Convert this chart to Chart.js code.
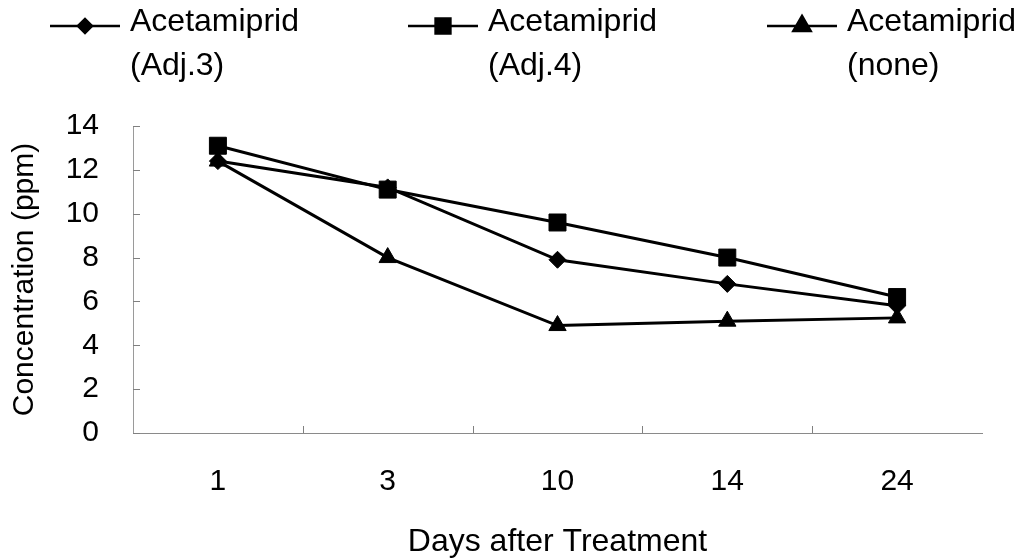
<!DOCTYPE html>
<html>
<head>
<meta charset="utf-8">
<script src="https://cdn.jsdelivr.net/npm/chart.js@4"></script>
<style>
  html, body { margin: 0; padding: 0; background: #fff; }
  #wrap { width: 1023px; height: 560px; }
</style>
</head>
<body>
<div id="wrap"><canvas id="lineChart" width="1023" height="560"></canvas></div>
<script>
var days = ['1', '3', '10', '14', '24'];
var adj3 = [12.4, 11.2, 7.9, 6.8, 5.8];
var adj4 = [13.1, 11.1, 9.6, 8.0, 6.2];
var none = [12.4, 8.0, 4.9, 5.1, 5.25];
var seriesNames = [['Acetamiprid', '(Adj.3)'], ['Acetamiprid', '(Adj.4)'], ['Acetamiprid', '(none)']];
var yTicks = [0, 2, 4, 6, 8, 10, 12, 14];

var FONT = "'Liberation Sans', Arial, sans-serif";

// legend drawn on top, two text lines per item like the original
var topLegend = {
    id: 'topLegend',
    afterDraw: function(chart, args, opts) {
        var ctx = chart.ctx;
        ctx.save();
        chart.data.datasets.forEach(function(ds, i) {
            var x0 = opts.itemX[i];
            var y0 = opts.lineY;
            ctx.strokeStyle = '#000';
            ctx.lineWidth = 2.5;
            ctx.beginPath();
            ctx.moveTo(x0, y0);
            ctx.lineTo(x0 + opts.lineLen, y0);
            ctx.stroke();
            ctx.fillStyle = '#000';
            Chart.helpers.drawPoint(ctx, {
                pointStyle: ds.pointStyle,
                radius: opts.markerRadius[i],
                rotation: 0,
                borderWidth: 1
            }, x0 + opts.lineLen / 2, y0);
            ctx.font = opts.fontSize + 'px ' + FONT;
            ctx.textAlign = 'left';
            ctx.textBaseline = 'alphabetic';
            seriesNames[i].forEach(function(t, k) {
                ctx.fillText(t, x0 + opts.lineLen + 10, opts.baselines[k]);
            });
        });
        ctx.restore();
    }
};

// small inside tick marks like the scanned axes
var innerTicks = {
    id: 'innerTicks',
    afterDatasetsDraw: function(chart) {
        var ctx = chart.ctx, x = chart.scales.x, y = chart.scales.y, area = chart.chartArea;
        ctx.save();
        ctx.strokeStyle = '#808080';
        ctx.lineWidth = 1;
        ctx.beginPath();
        y.ticks.forEach(function(t) {
            var py = Math.round(y.getPixelForValue(t.value)) + 0.5;
            ctx.moveTo(area.left, py);
            ctx.lineTo(area.left + 7, py);
        });
        for (var i = 0; i < days.length - 1; i++) {
            var px = Math.round((x.getPixelForValue(i) + x.getPixelForValue(i + 1)) / 2) + 0.5;
            ctx.moveTo(px, area.bottom);
            ctx.lineTo(px, area.bottom - 7);
        }
        ctx.stroke();
        ctx.restore();
    }
};

var ctx = document.getElementById('lineChart').getContext('2d');
var myChart = new Chart(ctx, {
    type: 'line',
    data: {
        labels: days,
        datasets: [{
            label: seriesNames[0].join(' '),
            data: adj3,
            borderColor: '#000',
            backgroundColor: '#000',
            borderWidth: 3,
            pointStyle: 'rectRot',
            pointRadius: 8.5,
            pointBorderWidth: 1
        }, {
            label: seriesNames[1].join(' '),
            data: adj4,
            borderColor: '#000',
            backgroundColor: '#000',
            borderWidth: 3,
            pointStyle: 'rect',
            pointRadius: 12,
            pointBorderWidth: 1
        }, {
            label: seriesNames[2].join(' '),
            data: none,
            borderColor: '#000',
            backgroundColor: '#000',
            borderWidth: 3,
            pointStyle: 'triangle',
            pointRadius: 10,
            pointBorderWidth: 1
        }]
    },
    options: {
        responsive: false,
        animation: false,
        layout: {
            padding: {top: 126, right: 41, left: 0, bottom: 0}
        },
        plugins: {
            legend: {display: false},
            tooltip: {enabled: false},
            topLegend: {
                itemX: [50, 408, 767],
                lineLen: 70,
                lineY: 26,
                fontSize: 32,
                baselines: [31, 75],
                markerRadius: [7, 10.5, 10]
            }
        },
        scales: {
            x: {
                offset: true,
                grid: {display: false, drawTicks: false},
                border: {display: true, color: '#8a8a8a', width: 1},
                ticks: {
                    color: '#000',
                    padding: 31,
                    font: {family: FONT, size: 30}
                },
                title: {
                    display: true,
                    text: 'Days after Treatment',
                    color: '#000',
                    font: {family: FONT, size: 32, lineHeight: 1.1},
                    padding: {top: 0, bottom: 0}
                },
                afterFit: function(s) { s.height = 127; }
            },
            y: {
                min: 0,
                max: 14,
                afterBuildTicks: function(s) {
                    s.ticks = yTicks.map(function(v) { return {value: v}; });
                },
                grid: {display: false, drawTicks: false},
                border: {display: true, color: '#9a9a9a', width: 1},
                ticks: {
                    color: '#000',
                    padding: 34,
                    font: {family: FONT, size: 30}
                },
                title: {
                    display: true,
                    text: 'Concentration (ppm)',
                    color: '#000',
                    font: {family: FONT, size: 30, lineHeight: 1.2},
                    padding: {top: 7, bottom: 0}
                },
                afterFit: function(s) { s.width = 133; }
            }
        }
    },
    plugins: [topLegend, innerTicks]
});
</script>
</body>
</html>
